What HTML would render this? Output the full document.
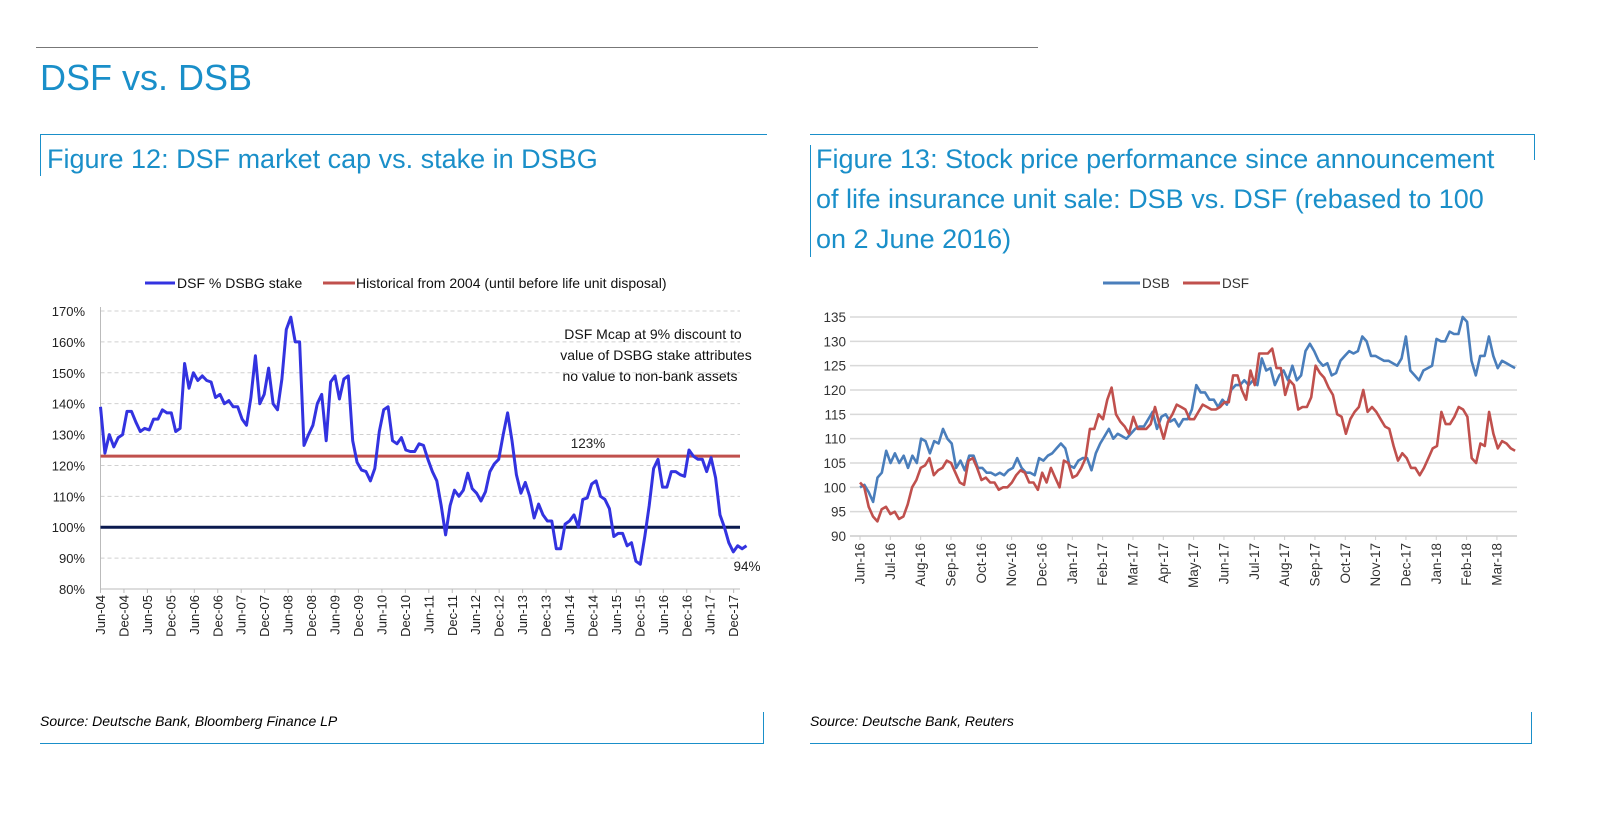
<!DOCTYPE html>
<html><head><meta charset="utf-8">
<style>
body{margin:0;width:1600px;height:827px;background:#fff;overflow:hidden;position:relative;font-family:"Liberation Sans",sans-serif;}
.abs{position:absolute;}
.ttl{color:#1a8fc9;font-size:27px;line-height:40px;}
.src{font-style:italic;font-size:14px;color:#000;}
svg text{font-family:"Liberation Sans Narrow","Liberation Sans",sans-serif;}
</style></head><body>
<div class="abs" style="left:36px;top:47px;width:1002px;height:1px;background:#777"></div>
<div class="abs" style="left:40px;top:57px;font-size:36px;color:#1a8fc9">DSF vs. DSB</div>

<div class="abs" style="left:40px;top:134px;width:727px;height:1px;background:#1a8fc9"></div>
<div class="abs" style="left:40px;top:134px;width:1px;height:42px;background:#1a8fc9"></div>
<div class="abs ttl" style="left:47px;top:139px">Figure 12: DSF market cap vs. stake in DSBG</div>

<div class="abs" style="left:810px;top:134px;width:725px;height:1px;background:#1a8fc9"></div>
<div class="abs" style="left:1534px;top:134px;width:1px;height:26px;background:#1a8fc9"></div>
<div class="abs" style="left:810px;top:145px;width:1px;height:112px;background:#1a8fc9"></div>
<div class="abs ttl" style="left:816px;top:139px;width:715px">Figure 13: Stock price performance since announcement<br>of life insurance unit sale: DSB vs. DSF (rebased to 100<br>on 2 June 2016)</div>

<div class="abs src" style="left:40px;top:713px">Source: Deutsche Bank, Bloomberg Finance LP</div>
<div class="abs" style="left:40px;top:743px;width:724px;height:1px;background:#1a8fc9"></div>
<div class="abs" style="left:763px;top:712px;width:1px;height:32px;background:#1a8fc9"></div>
<div class="abs src" style="left:810px;top:713px">Source: Deutsche Bank, Reuters</div>
<div class="abs" style="left:810px;top:743px;width:722px;height:1px;background:#1a8fc9"></div>
<div class="abs" style="left:1531px;top:712px;width:1px;height:32px;background:#1a8fc9"></div>

<svg id="c1" class="abs" style="left:0;top:0" width="800" height="700"></svg>
<svg id="c2" class="abs" style="left:800px;top:0" width="800" height="700"></svg>

<script>
// ---------- Figure 12 data ----------
const leftTicks=[170,160,150,140,130,120,110,100,90,80];
const leftCats=["Jun-04","Dec-04","Jun-05","Dec-05","Jun-06","Dec-06","Jun-07","Dec-07","Jun-08","Dec-08","Jun-09","Dec-09","Jun-10","Dec-10","Jun-11","Dec-11","Jun-12","Dec-12","Jun-13","Dec-13","Jun-14","Dec-14","Jun-15","Dec-15","Jun-16","Dec-16","Jun-17","Dec-17"];
const stakeVals=[139,124,130,126,129,130,137.5,137.5,134,131,132,131.5,135,135,138,137,137,131,132,153,145,150,147.5,149,147.5,147,142,143,140,141,139,139,135,133,142,155.5,140,143,151.5,140,138,148,164,168,160,160,126.5,130,133,140,143,128,147,149,141.5,148,149,128,121,118.5,118,115,119,131,138,139,128,127,129,125,124.5,124.5,127,126.5,122,118,115,107,97.5,107,112,110,112,117.5,112.5,111,108.5,111.5,118,120.5,122,130,137,128,117,111,114.5,110,103,107.5,104,102,102,93,93,101,102,104,100,109,109.5,114,115,110,109,106,97,98,98,94,95,89,88,97,107,119,122,113,113,118,118,117,116.5,125,123,122,122,118,122.5,116,104,100,95,92,94,93,94];
const stakeEndMonth=165.3;
const histLevel=123, parLevel=100;

// ---------- Figure 13 data ----------
const rightTicks=[135,130,125,120,115,110,105,100,95,90];
const rightCats=["Jun-16","Jul-16","Aug-16","Sep-16","Oct-16","Nov-16","Dec-16","Jan-17","Feb-17","Mar-17","Apr-17","May-17","Jun-17","Jul-17","Aug-17","Sep-17","Oct-17","Nov-17","Dec-17","Jan-18","Feb-18","Mar-18"];
const dsbVals=[100,100.5,99,97,102,103,107.5,105,107,105,106.5,104,106.5,105,110,109.5,107,109.5,109,112,110,109,104,105.5,103.5,106.5,106.5,104,104,103,103,102.5,103,102.5,103.5,104,106,104,103,103,102.5,106,105.5,106.5,107,108,109,108,104.5,104,105.5,106,106,103.5,107,109,110.5,112,110,111,110.5,110,111,112,112.5,112.5,114,115.5,112,114.5,115,113.5,114,112.5,114,114,116,121,119.5,119.5,118,118,116.5,118,117,120,121,121,122,121,122,121,126.5,124,124.5,121,123,124,122,125,122,123,128,129.5,128,126,125,125.5,123,123.5,126,127,128,127.5,128,131,130,127,127,126.5,126,126,125.5,125,126.5,131,124,123,122,124,124.5,125,130.5,130,130,132,131.5,131.5,135,134,126,123,127,127,131,127,124.5,126,125.5,125,124.5];
const dsfVals=[101,100,96,94,93,95.5,96,94.5,95,93.5,94,96.5,100,101.5,104,104.5,106,102.5,103.5,104,105.5,105,103,101,100.5,105.5,106,104,101.5,102,101,101,99.5,100,100,101,102.5,103.5,103,101,101,99.5,103,101,104,102,100,105.5,105,102,102.5,104,106,112,112,115,114,118,120.5,115,113.5,112.5,111,114.5,112,112,112,113,116.5,113,110,113.5,115,117,116.5,116,114,114,115.5,117,116.5,116,116,116.5,117.5,117.5,123,123,120,118,124,121,127.5,127.5,127.5,128.5,124.5,124.5,119,122,121,116,116.5,116.5,118.5,125,123.5,122.5,120.5,119,115,114.5,111,114,115.5,116.5,120,115.5,116.5,115.5,114,112.5,112,108.5,105.5,107,106,104,104,102.5,104,106,108,108.5,115.5,113,113,114.5,116.5,116,114.5,106,105,109,108.5,115.5,111,108,109.5,109,108,107.5];
const seriesEndMonth=21.6;

const NS="http://www.w3.org/2000/svg";
function mk(svg,tag,attrs){const e=document.createElementNS(NS,tag);for(const k in attrs)e.setAttribute(k,attrs[k]);svg.appendChild(e);return e;}

// ----- Chart 1 -----
(function(){
  const s=document.getElementById('c1');
  const x0=100.5, perMonth=23.45/6, yTop=311, yBot=589, vMax=170, vMin=80, xEnd=740;
  const X=m=>x0+m*perMonth;
  const Y=v=>yTop+(vMax-v)/(vMax-vMin)*(yBot-yTop);
  leftTicks.forEach(t=>{
    if(t>vMin){const g=mk(s,'line',{x1:x0,x2:xEnd,y1:Y(t),y2:Y(t),stroke:'#d0d0d0','stroke-dasharray':'4,3','stroke-width':1});
    
    }
    const l=mk(s,'text',{x:85,y:Y(t)+5,'text-anchor':'end','font-size':13,fill:'#222'});l.textContent=t+'%';
    
    
  });
  const ax=mk(s,'line',{x1:x0,x2:x0,y1:yTop-4,y2:yBot,stroke:'#bbb'});
  
  
  const bx=mk(s,'line',{x1:x0,x2:xEnd,y1:yBot,y2:yBot,stroke:'#bbb'});
  
  
  leftCats.forEach((c,i)=>{
    const xx=X(i*6);
    mk(s,'line',{x1:xx,x2:xx,y1:yBot,y2:yBot+4,stroke:'#bbb'});
    const t=mk(s,'text',{x:0,y:0,'text-anchor':'end','font-size':13,fill:'#222',transform:`translate(${xx+4.5},${yBot+6}) rotate(-90)`});t.textContent=c;
    
    
  });
  const hl=mk(s,'line',{x1:x0,x2:xEnd,y1:Y(histLevel),y2:Y(histLevel),stroke:'#c0504d','stroke-width':3});
  
  
  const pl=mk(s,'line',{x1:x0,x2:xEnd,y1:Y(parLevel),y2:Y(parLevel),stroke:'#0a1a4f','stroke-width':3});
  
  
  const n=stakeVals.length;
  const pts=stakeVals.map((v,i)=>X(i*stakeEndMonth/(n-1)).toFixed(1)+','+Y(v).toFixed(1)).join(' ');
  const ln=mk(s,'polyline',{points:pts,fill:'none',stroke:'#3333e0','stroke-width':3,'stroke-linejoin':'round'});
  
  
  const a=mk(s,'text',{x:588,y:Y(histLevel)-8,'text-anchor':'middle','font-size':13.5,fill:'#222'});a.textContent=histLevel+'%';
  
  
  const b=mk(s,'text',{x:747,y:571,'text-anchor':'middle','font-size':13.5,fill:'#222'});b.textContent=stakeVals[n-1]+'%';
  
  
  ["DSF Mcap at 9% discount to","value of DSBG stake attributes","no value to non-bank assets"].forEach((t,i)=>{
    const e=mk(s,'text',{x:[653,656,650][i],y:339+i*21,'text-anchor':'middle','font-size':14,fill:'#111'});e.textContent=t;
    
    
  });
  const l1=mk(s,'line',{x1:145,x2:175,y1:283,y2:283,stroke:'#3333e0','stroke-width':3});
  
  
  const t1=mk(s,'text',{x:177,y:288,'font-size':14,fill:'#111'});t1.textContent='DSF % DSBG stake';
  
  
  const l2=mk(s,'line',{x1:323,x2:355,y1:283,y2:283,stroke:'#c0504d','stroke-width':3});
  
  
  const t2=mk(s,'text',{x:356,y:288,'font-size':14,fill:'#111'});t2.textContent='Historical from 2004 (until before life unit disposal)';
  
  
})();

// ----- Chart 2 -----
(function(){
  const s=document.getElementById('c2');
  const ox=-800;
  const x0=860+ox, perMonth=30.33, yTop=317, yBot=536, vMax=135, vMin=90, xEnd=1517+ox;
  const X=m=>x0+m*perMonth;
  const Y=v=>yTop+(vMax-v)/(vMax-vMin)*(yBot-yTop);
  rightTicks.forEach(t=>{
    if(t>vMin){const g=mk(s,'line',{x1:x0-10,x2:xEnd,y1:Y(t),y2:Y(t),stroke:'#d9d9d9','stroke-width':1.5});
    
    }
    const l=mk(s,'text',{x:846+ox,y:Y(t)+5,'text-anchor':'end','font-size':13.5,fill:'#333'});l.textContent=t;
    
    
  });
  const bx=mk(s,'line',{x1:x0-10,x2:xEnd,y1:yBot,y2:yBot,stroke:'#ccc','stroke-width':1.5});
  
  
  rightCats.forEach((c,i)=>{
    const xx=X(i);
    mk(s,'line',{x1:xx,x2:xx,y1:yBot,y2:yBot+4,stroke:'#ccc'});
    const t=mk(s,'text',{x:0,y:0,'text-anchor':'end','font-size':13.5,fill:'#333',transform:`translate(${xx+4.5},${yBot+7}) rotate(-90)`});t.textContent=c;
    
    
  });
  function line(vals,col,name){
    const n=vals.length;
    const pts=vals.map((v,i)=>X(i*seriesEndMonth/(n-1)).toFixed(1)+','+Y(v).toFixed(1)).join(' ');
    const p=mk(s,'polyline',{points:pts,fill:'none',stroke:col,'stroke-width':2.6,'stroke-linejoin':'round'});
    
    
  }
  line(dsbVals,'#4a7ebb','dsb-line');
  line(dsfVals,'#c0504d','dsf-line');
  const l1=mk(s,'line',{x1:1103+ox,x2:1140+ox,y1:283,y2:283,stroke:'#4a7ebb','stroke-width':3});
  
  
  const t1=mk(s,'text',{x:1142+ox,y:288,'font-size':13.5,fill:'#333'});t1.textContent='DSB';
  
  
  const l2=mk(s,'line',{x1:1183+ox,x2:1220+ox,y1:283,y2:283,stroke:'#c0504d','stroke-width':3});
  
  
  const t2=mk(s,'text',{x:1222+ox,y:288,'font-size':13.5,fill:'#333'});t2.textContent='DSF';
  
  
})();
</script>
</body></html>
